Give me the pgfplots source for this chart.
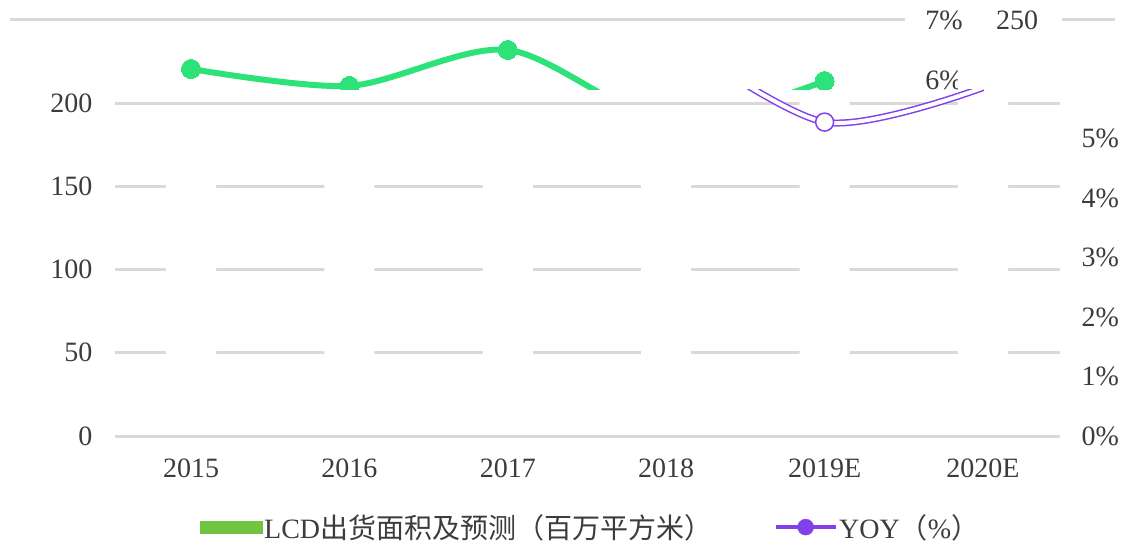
\documentclass[border=0pt]{standalone}
\usepackage{fontspec}
\setmainfont{Liberation Serif}
\newfontfamily\cjk{Noto Sans CJK SC}
\usepackage{pgfplots}
\pgfplotsset{compat=1.18}
\definecolor{gridgray}{RGB}{217,217,217}
\definecolor{lgreen}{RGB}{46,226,122}
\definecolor{bargreen}{RGB}{112,196,66}
\definecolor{purp}{RGB}{130,64,235}
\definecolor{txt}{RGB}{60,60,60}
\newcommand{\bigf}{\fontsize{28}{32}\selectfont}
\begin{document}
\begin{tikzpicture}
\useasboundingbox (0pt,0pt) rectangle (1129pt,546pt);
\pgfplotsset{every axis/.append style={scale only axis, width=945pt, xmin=-0.4798, xmax=5.486,
  tick label style={font=\bigf, text=txt}}}
% top (250) gridline and displaced labels
\draw[gridgray, line width=3pt] (10pt,526pt) -- (905pt,526pt);
\draw[gridgray, line width=3pt] (1062pt,526pt) -- (1115pt,526pt);
\node[font=\bigf, text=txt] at (944pt,526pt) {7\%};
\node[font=\bigf, text=txt] at (944pt,466pt) {6\%};
\node[font=\bigf, text=txt] at (1017pt,526pt) {250};
% main (left) axis with the LCD bars
\begin{axis}[at={(115pt,110pt)}, anchor=south west, height=416pt, ymin=0, ymax=250, clip=false,
  ytick={0,50,100,150,200}, yticklabels={0,50,100,150,200}, ymajorgrids, grid style={gridgray, line width=3pt},
  axis line style={draw=none}, major tick style={draw=none},
  xtick={0,...,5}, xticklabels={2015,2016,2017,2018,2019E,2020E},
  xticklabel style={yshift=-19pt}, yticklabel style={xshift=-19pt},
  legend style={at={(rel axis cs:0.09,-0.219)}, anchor=west, draw=none, fill=none,
    font=\bigf, text=txt, inner sep=0pt, nodes={inner sep=1.5pt},
    legend columns=2, /tikz/every even column/.append style={column sep=60pt}},
  legend cell align=left]
\addlegendimage{legend image code/.code={\fill[bargreen] (0pt,-6pt) rectangle (62pt,6pt);}}
\addlegendentry{LCD{\cjk 出货面积及预测（百万平方米）}}
\addlegendimage{legend image code/.code={\draw[purp, line width=4pt] (0pt,0pt) -- (60pt,0pt); \fill[purp] (30pt,0pt) circle (8pt);}}
\addlegendentry{YOY{\cjk （}\%{\cjk ）}}
\addplot[ybar, bar width=50pt, fill=white, draw=none, forget plot] coordinates {
  (0,175) (1,180) (2,185) (3,190) (4,205) (5,215)};
\addplot[gridgray, line width=3pt, forget plot] coordinates {(-0.4798,0) (5.486,0)};
\end{axis}
% right axis (YOY, %) lower part
\begin{axis}[at={(115pt,110pt)}, anchor=south west, height=346pt, ymin=0, ymax=5.82,
  axis x line=none, axis y line*=right, axis line style={draw=none}, major tick style={draw=none},
  ytick={0,...,5}, yticklabels={0\%,1\%,2\%,3\%,4\%,5\%},
  yticklabel style={anchor=west, xshift=18pt}, clip marker paths=true]
\addplot[purp, line width=7pt, smooth, no markers] coordinates {(3,6.8) (4,5.28) (5,5.86)};
\addplot[white, line width=4pt, smooth, no markers] coordinates {(3,6.8) (4,5.28) (5,5.86)};
\addplot[only marks, mark=*, mark size=9pt, mark options={fill=white, draw=purp, line width=1.5pt}] coordinates {(4,5.28)};
\end{axis}
% upper strip (clipped green line)
\begin{axis}[at={(115pt,456pt)}, anchor=south west, height=70pt, ymin=5.82, ymax=7, hide axis, clip marker paths=true]
\addplot[lgreen, line width=6pt, smooth, mark=*, mark size=9.5pt, mark options={fill=lgreen, draw=lgreen, line width=0pt}]
  coordinates {(0,6.175) (1,5.889) (2,6.495) (3,5.3) (4,5.97)};
\end{axis}
\end{tikzpicture}
\end{document}
